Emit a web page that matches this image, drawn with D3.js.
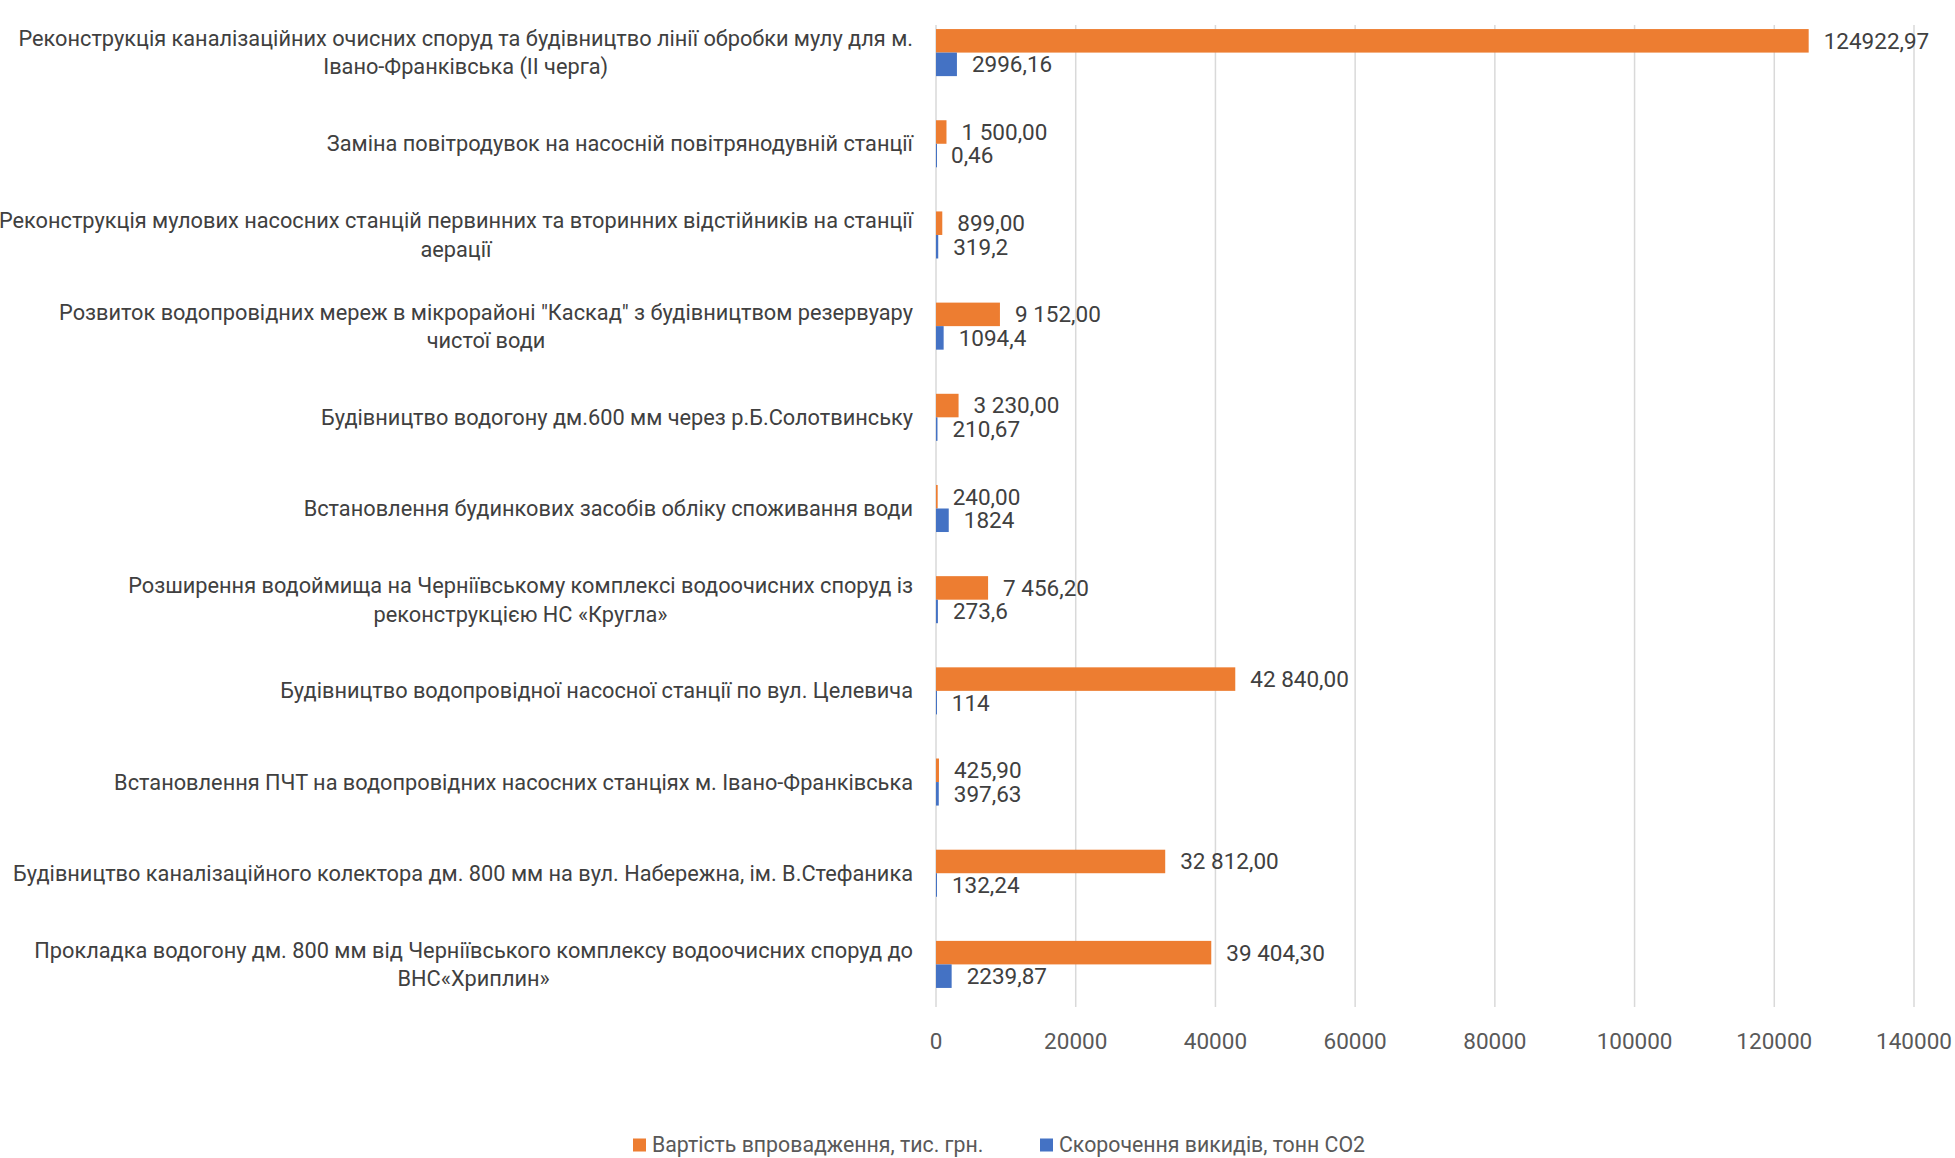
<!doctype html>
<html lang="uk">
<head>
<meta charset="utf-8">
<title>Проекти: вартість та скорочення викидів</title>
<script src="https://d3js.org/d3.v7.min.js"></script>
<style>
  html, body { margin: 0; padding: 0; background: #fff; }
  svg { display: block; font-family: Roboto, "Open Sans", sans-serif; }
</style>
</head>
<body>
<script>
// categories, top to bottom, with the line breaks as in the picture
const categories = [
  "Реконструкція каналізаційних очисних споруд та будівництво лінії обробки мулу для м.\nІвано-Франківська (ІІ черга)",
  "Заміна повітродувок на насосній повітрянодувній станції ",
  "Реконструкція мулових насосних станцій первинних та вторинних відстійників на станції\nаерації",
  "Розвиток водопровідних мереж в мікрорайоні \"Каскад\" з будівництвом резервуару \nчистої води",
  "Будівництво водогону дм.600 мм через р.Б.Солотвинську",
  "Встановлення будинкових засобів обліку споживання води",
  "Розширення водоймища на Черніївському комплексі водоочисних споруд із\nреконструкцією НС «Кругла»",
  "Будівництво водопровідної насосної станції по вул. Целевича",
  "Встановлення ПЧТ на водопровідних насосних станціях м. Івано-Франківська",
  "Будівництво каналізаційного колектора дм. 800 мм на вул. Набережна, ім. В.Стефаника",
  "Прокладка водогону дм. 800 мм від Черніївського комплексу водоочисних споруд до \nВНС«Хриплин»"
]

const costValues = [124922.97, 1500, 899, 9152, 3230, 240, 7456.2, 42840, 425.9, 32812, 39404.3]
const costLabels = ["124922,97", "1 500,00", "899,00", "9 152,00", "3 230,00", "240,00",
  "7 456,20", "42 840,00", "425,90", "32 812,00", "39 404,30"]

const co2Values = [2996.16, 0.46, 319.2, 1094.4, 210.67, 1824, 273.6, 114, 397.63, 132.24, 2239.87]
const co2Labels = ["2996,16", "0,46", "319,2", "1094,4", "210,67", "1824",
  "273,6", "114", "397,63", "132,24", "2239,87"]

const seriesNames = ["Вартість впровадження, тис. грн.", "Скорочення викидів, тонн CO2"]
const seriesColors = ["#ED7D31", "#4472C4"]
const tickValues = [0, 20000, 40000, 60000, 80000, 100000, 120000, 140000]

const width = 1955
const height = 1158

const svg = d3.select("body").append("svg")
  .attr("width", width)
  .attr("height", height)

const x = d3.scaleLinear().domain([0, 140000]).range([936, 1914])
const y = d3.scaleBand().domain(d3.range(categories.length)).range([7, 1010])
const barH = y.bandwidth() * 0.258
const gridTop = 25, gridBottom = 1007

// gridlines
svg.append("g")
  .selectAll("line")
  .data(tickValues)
  .join("line")
  .attr("x1", d => x(d)).attr("x2", d => x(d))
  .attr("y1", gridTop).attr("y2", gridBottom)
  .attr("stroke", "#D9D9D9")
  .attr("stroke-width", 1.5)

// tick labels
svg.append("g")
  .attr("font-size", 22.5)
  .selectAll("text")
  .data(tickValues)
  .join("text")
  .attr("x", d => x(d))
  .attr("y", 1041)
  .attr("dy", "0.35em")
  .attr("text-anchor", "middle")
  .attr("fill", "#595959")
  .text(d3.format("d"))

const rows = categories.map((c, i) => ({
  i, label: c,
  series: [
    { v: costValues[i], t: costLabels[i], s: 0 },
    { v: co2Values[i], t: co2Labels[i], s: 1 }
  ]
}))

const row = svg.append("g")
  .selectAll("g")
  .data(rows)
  .join("g")
  .attr("transform", d => `translate(0,${y(d.i) + y.bandwidth() / 2})`)

// bars
row.selectAll("rect")
  .data(d => d.series)
  .join("rect")
  .attr("x", x(0))
  .attr("y", d => d.s === 0 ? -barH : 0)
  .attr("width", d => Math.max(x(d.v) - x(0), 1))
  .attr("height", barH)
  .attr("fill", d => seriesColors[d.s])

// value labels
row.selectAll("text.value")
  .data(d => d.series)
  .join("text")
  .attr("class", "value")
  .attr("font-size", 22.5)
  .attr("x", d => x(d.v) + 15)
  .attr("y", d => d.s === 0 ? -barH / 2 : barH / 2)
  .attr("dy", "0.35em")
  .attr("fill", "#404040")
  .text(d => d.t)

// category labels: lines centred within a block that is right-aligned
const labelRight = 913
const lineH = 28.5
row.each(function (d) {
  const lines = d.label.split("\n")
  const g = d3.select(this).append("g").attr("font-size", 21.75)
  const texts = lines.map((ln, k) => g.append("text")
    .attr("y", (k - (lines.length - 1) / 2) * lineH)
    .attr("dy", "0.35em")
    .attr("text-anchor", "middle")
    .attr("fill", "#404040")
    .text(ln))
  const w = d3.max(texts, t => t.node().getComputedTextLength())
  texts.forEach(t => t.attr("x", labelRight - w / 2))
})

// legend
const legend = svg.append("g").attr("transform", "translate(0,1145)").attr("font-size", 21.3)
const legendX = [633, 1040]
seriesNames.forEach((name, i) => {
  legend.append("rect")
    .attr("x", legendX[i]).attr("y", -6.5)
    .attr("width", 13).attr("height", 13)
    .attr("fill", seriesColors[i])
  legend.append("text")
    .attr("x", legendX[i] + 19)
    .attr("dy", "0.35em")
    .attr("fill", "#595959")
    .text(name)
})
</script>
</body>
</html>
